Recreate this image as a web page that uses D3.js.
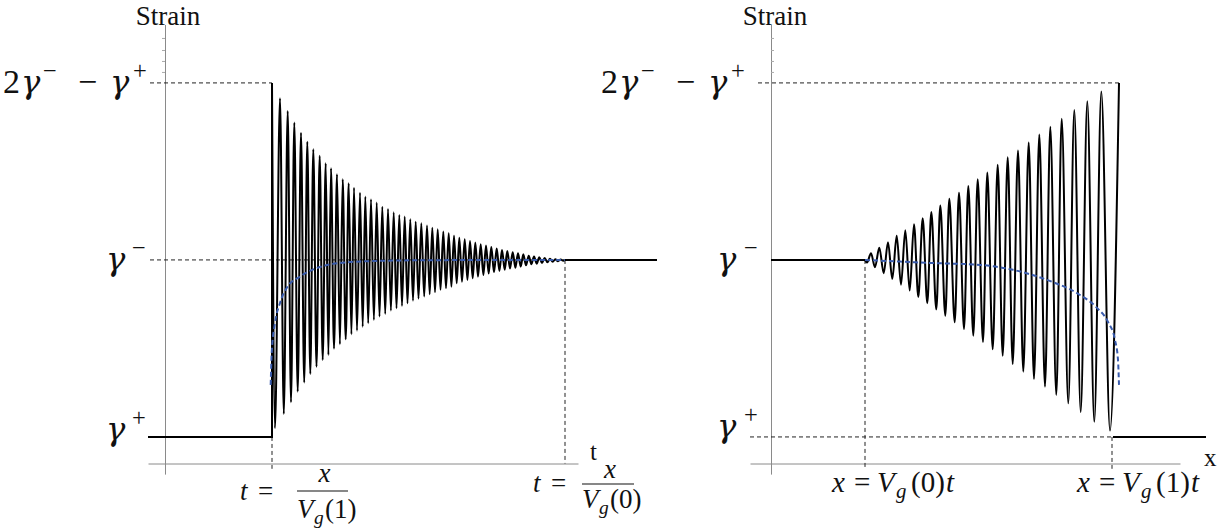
<!DOCTYPE html>
<html>
<head>
<meta charset="utf-8">
<script src="https://cdn.jsdelivr.net/npm/d3@7"></script>
<style>
  body { margin: 0; background: #fff; }
  svg text { font-family: 'Liberation Serif', 'Times New Roman', serif; fill: #111; }
</style>
</head>
<body>
<div id="chart"></div>
<script>
const width = 1225;
const height = 531;

// strain levels (γ+ = 1, γ- = 2, 2γ- - γ+ = 3)
const gammaPlus = 1.0;
const gammaMinus = 2.0;
const gammaTop = 3.0;
const strainMin = 0.85;
const strainMax = 3.33;
const strainMinorTicks = [3.062, 3.124, 3.186, 3.254];

// left panel: strain against t
const tAxis = [-0.17, 4.13];
const tFront = 1.07; // t = x / Vg(1)
const tBack = 4.0;   // t = x / Vg(0)
const tEnd = 4.92;

const leftPeakT = [1.150, 1.227, 1.293, 1.360, 1.423, 1.483, 1.547, 1.607, 1.660, 1.720,
  1.777, 1.837, 1.890, 1.950, 2.003, 2.060, 2.117, 2.173, 2.230, 2.287,
  2.343, 2.397, 2.453, 2.507, 2.563, 2.620, 2.673, 2.727, 2.783, 2.837,
  2.890, 2.943, 2.997, 3.050, 3.103, 3.157, 3.210, 3.263, 3.317, 3.370,
  3.423, 3.477, 3.530, 3.583, 3.637, 3.690, 3.743, 3.797, 3.850, 3.903, 3.957];
const leftPeakStrain = [2.914, 2.842, 2.776, 2.719, 2.668, 2.625, 2.588, 2.546, 2.518, 2.484,
  2.456, 2.433, 2.408, 2.380, 2.358, 2.343, 2.324, 2.301, 2.288, 2.269,
  2.254, 2.245, 2.230, 2.216, 2.207, 2.194, 2.182, 2.173, 2.160, 2.151,
  2.136, 2.126, 2.117, 2.107, 2.098, 2.089, 2.081, 2.073, 2.064, 2.056,
  2.051, 2.044, 2.038, 2.032, 2.024, 2.019, 2.015, 2.011, 2.007, 2.004, 2.002];
const leftTroughT = [1.100, 1.188, 1.260, 1.327, 1.392, 1.453, 1.515, 1.577, 1.634, 1.690,
  1.749, 1.807, 1.864, 1.920, 1.977, 2.032, 2.089, 2.145, 2.202, 2.259,
  2.315, 2.370, 2.425, 2.480, 2.535, 2.592, 2.647, 2.700, 2.755, 2.810,
  2.864, 2.917, 2.970, 3.024, 3.077, 3.130, 3.184, 3.237, 3.290, 3.344,
  3.397, 3.450, 3.504, 3.557, 3.610, 3.664, 3.717, 3.770, 3.824, 3.877, 3.930, 3.983];
const leftTroughStrain = [1.049, 1.130, 1.196, 1.256, 1.307, 1.356, 1.397, 1.435, 1.463, 1.499,
  1.524, 1.552, 1.580, 1.601, 1.623, 1.642, 1.661, 1.680, 1.695, 1.714,
  1.727, 1.740, 1.755, 1.770, 1.781, 1.793, 1.806, 1.818, 1.831, 1.840,
  1.849, 1.868, 1.877, 1.887, 1.897, 1.906, 1.915, 1.923, 1.931, 1.938,
  1.945, 1.951, 1.956, 1.962, 1.970, 1.976, 1.979, 1.983, 1.987, 1.990, 1.993, 1.996];
const leftMeanT = [1.057, 1.067, 1.100, 1.150, 1.217, 1.350, 1.517, 1.850, 2.350, 2.850, 4.000];
const leftMeanStrain = [1.294, 1.475, 1.644, 1.757, 1.842, 1.906, 1.954, 1.988, 1.997, 1.999, 2.000];

// right panel: strain against x
const xAxis = [-0.21, 4.09];
const xBack = 0.94;   // x = Vg(0) t
const xFront = 3.41;  // x = Vg(1) t
const xFrontTop = 3.48;
const xEnd = 4.35;

const rightPeakX = [1.000, 1.083, 1.170, 1.257, 1.343, 1.430, 1.517, 1.603, 1.693, 1.783,
  1.880, 1.973, 2.067, 2.163, 2.267, 2.367, 2.470, 2.577, 2.683, 2.793,
  2.907, 3.033, 3.163, 3.303];
const rightPeakStrain = [2.038, 2.069, 2.100, 2.136, 2.168, 2.202, 2.236, 2.271, 2.307, 2.345,
  2.380, 2.418, 2.456, 2.494, 2.537, 2.580, 2.618, 2.663, 2.708, 2.753,
  2.797, 2.847, 2.897, 2.951];
const rightTroughX = [0.960, 1.040, 1.127, 1.213, 1.300, 1.387, 1.473, 1.563, 1.653, 1.743,
  1.837, 1.930, 2.023, 2.120, 2.217, 2.317, 2.417, 2.523, 2.630, 2.740,
  2.853, 2.973, 3.097, 3.233, 3.390];
const rightTroughStrain = [1.985, 1.959, 1.925, 1.893, 1.860, 1.827, 1.791, 1.755, 1.721, 1.685,
  1.648, 1.610, 1.572, 1.537, 1.495, 1.458, 1.412, 1.369, 1.328, 1.284,
  1.237, 1.190, 1.140, 1.086, 1.036];
const rightMeanX = [0.94, 1.59, 2.09, 2.42, 2.76, 3.09, 3.26, 3.37, 3.44, 3.47, 3.48];
const rightMeanStrain = [2.000, 1.983, 1.972, 1.944, 1.887, 1.802, 1.729, 1.650, 1.548, 1.435, 1.294];

const svg = d3
  .select('#chart')
  .append('svg')
  .attr('width', width)
  .attr('height', height);

const yScale = d3.scaleLinear().domain([strainMin, strainMax]).range([463.5, 24.5]);
const xLeft = d3.scaleLinear().domain(tAxis).range([148, 578]);
const xRight = d3.scaleLinear().domain(xAxis).range([750, 1180]);

const zip = (a, b) => a.map((d, i) => [d, b[i]]);

const interleave = (first, troughs, peaks, last) => {
  const pts = [first];
  troughs.forEach((d, i) => {
    pts.push(d);
    if (i < peaks.length) pts.push(peaks[i]);
  });
  pts.push(last);
  return pts;
};

const drawPanel = (xs, p) => {
  const g = svg.append('g');
  const straight = d3.line().x((d) => xs(d[0])).y((d) => yScale(d[1]));
  const smooth = d3.line().x((d) => xs(d[0])).y((d) => yScale(d[1])).curve(d3.curveMonotoneX);

  // axes
  g.append('g')
    .attr('transform', `translate(0, ${yScale(strainMin)})`)
    .call(d3.axisBottom(xs).tickValues([]).tickSizeOuter(0))
    .call((a) => a.select('.domain').attr('stroke', '#8a8a8a'));
  const yAxisScale = yScale.copy().domain([0.79, strainMax]).range([yScale(0.79), yScale(strainMax)]);
  const yAxis = p.ticksRight ? d3.axisRight(yAxisScale) : d3.axisLeft(yAxisScale);
  g.append('g')
    .attr('transform', `translate(${xs(0)}, 0)`)
    .call(yAxis.tickValues(strainMinorTicks).tickSize(3).tickSizeOuter(0).tickFormat(''))
    .call((a) => a.select('.domain').attr('stroke', '#8a8a8a'))
    .call((a) => a.selectAll('.tick line').attr('stroke', '#aaa'));

  // guides
  p.guides.forEach((seg) => {
    g.append('path')
      .attr('d', straight(seg))
      .attr('fill', 'none')
      .attr('stroke', '#222')
      .attr('stroke-width', 1)
      .attr('stroke-dasharray', '4,3');
  });

  // solution
  p.flats.forEach((seg) => {
    g.append('path')
      .attr('d', straight(seg))
      .attr('fill', 'none')
      .attr('stroke', '#000')
      .attr('stroke-width', 2);
  });
  g.append('path')
    .attr('d', smooth(p.wave))
    .attr('fill', 'none')
    .attr('stroke', '#000')
    .attr('stroke-width', 2)
    .attr('stroke-linejoin', 'round');

  // mean
  g.append('path')
    .attr('d', smooth(p.mean))
    .attr('fill', 'none')
    .attr('stroke', '#3a5cad')
    .attr('stroke-width', 2)
    .attr('stroke-dasharray', '5,3');
};

drawPanel(xLeft, {
  guides: [
    [[-0.15, gammaTop], [tFront, gammaTop]],
    [[-0.15, gammaMinus], [tBack, gammaMinus]],
    [[tFront, gammaPlus], [tFront, 0.82]],
    [[tBack, gammaMinus], [tBack, strainMin]],
  ],
  flats: [
    [[tAxis[0], gammaPlus], [tFront, gammaPlus], [tFront, gammaTop]],
    [[tBack, gammaMinus], [tEnd, gammaMinus]],
  ],
  wave: interleave([tFront, gammaTop], zip(leftTroughT, leftTroughStrain),
    zip(leftPeakT, leftPeakStrain), [tBack, gammaMinus]),
  mean: zip(leftMeanT, leftMeanStrain),
  ticksRight: false,
});

drawPanel(xRight, {
  guides: [
    [[-0.13, gammaTop], [xFrontTop, gammaTop]],
    [[xAxis[0], gammaPlus], [xFront, gammaPlus]],
    [[xBack, gammaMinus], [xBack, 0.82]],
    [[xFront, gammaPlus], [xFront, 0.82]],
  ],
  flats: [
    [[0, gammaMinus], [xBack, gammaMinus]],
    [[3.42, gammaPlus], [xEnd, gammaPlus]],
  ],
  wave: interleave([xBack, gammaMinus], zip(rightTroughX, rightTroughStrain),
    zip(rightPeakX, rightPeakStrain), [xFrontTop, gammaTop]),
  mean: zip(rightMeanX, rightMeanStrain),
  ticksRight: true,
});

// labels
const label = (x, y, size, parts) => {
  const t = svg.append('text').attr('x', x).attr('y', y).style('font-size', size + 'px');
  let shift = 0;
  parts.forEach(([str, kind, px]) => {
    const target = kind.startsWith('sup') ? -0.42 * size : kind.startsWith('sub') ? 0.22 * size : 0;
    const ts = t.append('tspan').text(str).attr('dy', target - shift);
    if (px !== undefined) ts.attr('x', px);
    shift = target;
    if (kind.endsWith('i') || kind === 'g') ts.style('font-style', 'italic');
    if (kind === 'g') ts.style('font-family', "'DejaVu Serif', serif").style('font-size', size * 0.95 + 'px');
    if (target !== 0) ts.style('font-size', size * 0.72 + 'px');
  });
  return t;
};

svg.append('text').attr('x', 168).attr('y', 25).attr('text-anchor', 'middle')
  .style('font-size', '27px').text('Strain');
svg.append('text').attr('x', 775).attr('y', 25).attr('text-anchor', 'middle')
  .style('font-size', '27px').text('Strain');
svg.append('text').attr('x', 590).attr('y', 460).style('font-size', '25px').text('t');
svg.append('text').attr('x', 1204).attr('y', 466).style('font-size', '25px').text('x');

[0, 598].forEach((dx) => {
  label(3 + dx, 93, 34, [
    ['2', 'r', 3 + dx], ['γ', 'g', 21 + dx], ['−', 'sup', 43 + dx],
    ['−', 'r', 78 + dx], ['γ', 'g', 110 + dx], ['+', 'sup', 133 + dx],
  ]);
});
label(106, 270, 34, [['γ', 'g', 106], ['−', 'sup', 132]]);
label(717, 270, 34, [['γ', 'g', 717], ['−', 'sup', 744]]);
label(106, 440, 34, [['γ', 'g', 106], ['+', 'sup', 132]]);
label(717, 437, 34, [['γ', 'g', 717], ['+', 'sup', 744]]);

// fraction labels under the left panel
const fraction = (x0, base, barY, barX0, barX1, numBase, denBase, digit) => {
  label(x0, base, 27, [['t', 'i', x0], ['=', 'r', x0 + 18]]);
  svg.append('text').attr('x', (barX0 + barX1) / 2 + 2).attr('y', numBase)
    .attr('text-anchor', 'middle').style('font-size', '27px').style('font-style', 'italic').text('x');
  svg.append('line').attr('x1', barX0).attr('x2', barX1).attr('y1', barY).attr('y2', barY)
    .attr('stroke', '#111').attr('stroke-width', 1.2);
  label(barX0, denBase, 27, [['V', 'i', barX0], ['g', 'subi', barX0 + 17], ['(' + digit + ')', 'r', barX0 + 28]]);
};
fraction(240, 500, 491, 297, 348, 482, 518, '1');
fraction(533, 492, 484, 582, 634, 478, 508, '0');

[[832, '0'], [1077, '1']].forEach(([x0, digit]) => {
  label(x0, 492, 29, [
    ['x', 'i', x0], ['=', 'r', x0 + 22], ['V', 'i', x0 + 45], ['g', 'subi', x0 + 64],
    ['(' + digit + ')', 'r', x0 + 79], ['t', 'i', x0 + 114],
  ]);
});
</script>
</body>
</html>
